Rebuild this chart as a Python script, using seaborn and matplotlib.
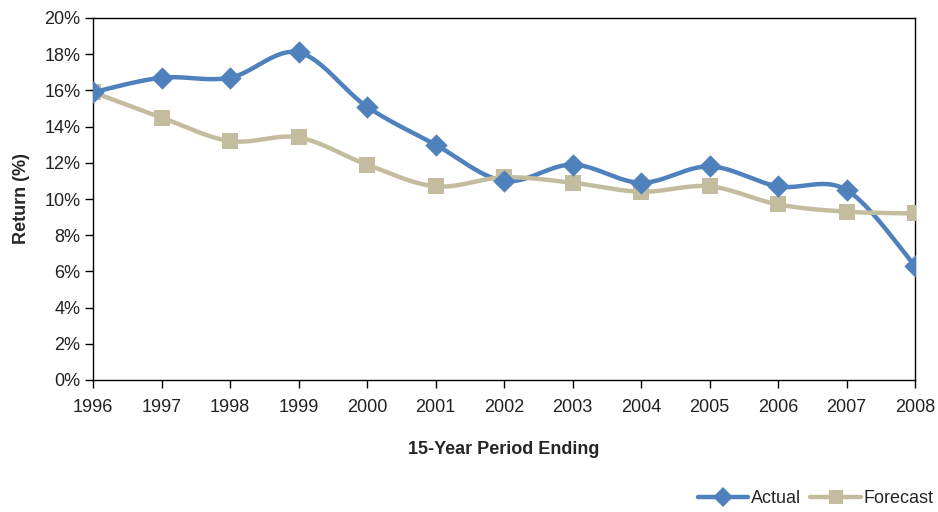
import numpy as np
import pandas as pd
import matplotlib
matplotlib.use("Agg")
import matplotlib.pyplot as plt
from matplotlib.lines import Line2D
from matplotlib.ticker import FuncFormatter, MultipleLocator
import seaborn as sns

years = [1996, 1997, 1998, 1999, 2000, 2001, 2002, 2003, 2004, 2005, 2006, 2007, 2008]
actual = [15.9, 16.7, 16.7, 18.1, 15.1, 13.0, 11.0, 11.9, 10.9, 11.8, 10.7, 10.5, 6.3]
forecast = [15.9, 14.5, 13.2, 13.4, 11.9, 10.7, 11.2, 10.9, 10.4, 10.7, 9.7, 9.3, 9.2]

BLUE = "#4F81BD"
TAN = "#C4BC9F"


def smooth(xs, ys, n=30):
    """Bezier smoothing through every point (Catmull-Rom style, tension 1/6)."""
    p = np.column_stack([xs, ys]).astype(float)
    ext = np.vstack([p[0], p, p[-1]])
    out = []
    t = np.linspace(0, 1, n)[:, None]
    for i in range(len(p) - 1):
        p0, p1, p2, p3 = ext[i], ext[i + 1], ext[i + 2], ext[i + 3]
        c1 = p1 + (p2 - p0) / 6
        c2 = p2 - (p3 - p1) / 6
        seg = ((1 - t) ** 3) * p1 + 3 * ((1 - t) ** 2) * t * c1 + 3 * (1 - t) * t ** 2 * c2 + t ** 3 * p2
        out.append(seg if i == 0 else seg[1:])
    s = np.vstack(out)
    return s[:, 0], s[:, 1]


sns.set_theme(style="white")
plt.rcParams["font.family"] = ["Liberation Sans Narrow", "Liberation Sans", "DejaVu Sans"]

fig = plt.figure(figsize=(9.38, 5.12), dpi=100)
ax = fig.add_axes([93 / 938, 1 - 380 / 512, (915 - 93) / 938, (380 - 18) / 512])

frames = []
for name, vals in [("Actual", actual), ("Forecast", forecast)]:
    sx, sy = smooth(years, vals)
    frames.append(pd.DataFrame({"year": sx, "ret": sy, "series": name}))
curves = pd.concat(frames, ignore_index=True)
points = pd.DataFrame({
    "year": years * 2,
    "ret": actual + forecast,
    "series": ["Actual"] * len(years) + ["Forecast"] * len(years),
})

palette = {"Actual": BLUE, "Forecast": TAN}
sns.lineplot(data=curves, x="year", y="ret", hue="series", palette=palette,
             linewidth=3.2, sort=False, estimator=None, units="series",
             legend=False, ax=ax)
sns.scatterplot(data=points[points.series == "Forecast"], x="year", y="ret",
                color=TAN, marker="s", s=120, linewidth=0, legend=False, ax=ax, zorder=3)
sns.scatterplot(data=points[points.series == "Actual"], x="year", y="ret",
                color=BLUE, marker="D", s=130, linewidth=0, legend=False, ax=ax, zorder=4)

ax.set_xlim(1996, 2008)
ax.set_ylim(0, 20)
ax.set_xticks(years)
ax.set_xticklabels([str(y) for y in years])
ax.yaxis.set_major_locator(MultipleLocator(2))
ax.yaxis.set_major_formatter(FuncFormatter(lambda v, _: f"{v:.0f}%"))

for sp in ax.spines.values():
    sp.set_visible(True)
    sp.set_color("black")
    sp.set_linewidth(1.0)
ax.tick_params(axis="both", which="major", direction="out", length=6, width=1,
               color="black", labelsize=13, labelcolor="#222222", bottom=True, left=True)
ax.tick_params(axis="x", pad=8)
ax.tick_params(axis="y", pad=3)

ax.set_xlabel("15-Year Period Ending", fontsize=13, fontweight="bold", labelpad=18)
ax.set_ylabel("Return (%)", fontsize=13, fontweight="bold", labelpad=10)

handles = [
    Line2D([], [], color=BLUE, linewidth=3.2, marker="D", markersize=10, markeredgewidth=0),
    Line2D([], [], color=TAN, linewidth=3.2, marker="s", markersize=10, markeredgewidth=0),
]
fig.legend(handles, ["Actual", "Forecast"], loc="lower right", bbox_to_anchor=(1.0, 0.0),
           ncol=2, frameon=False, fontsize=13, handlelength=2.8, handletextpad=0.15,
           columnspacing=0.5, borderaxespad=0.0, borderpad=0.25)

fig.savefig("out.png", dpi=100)
